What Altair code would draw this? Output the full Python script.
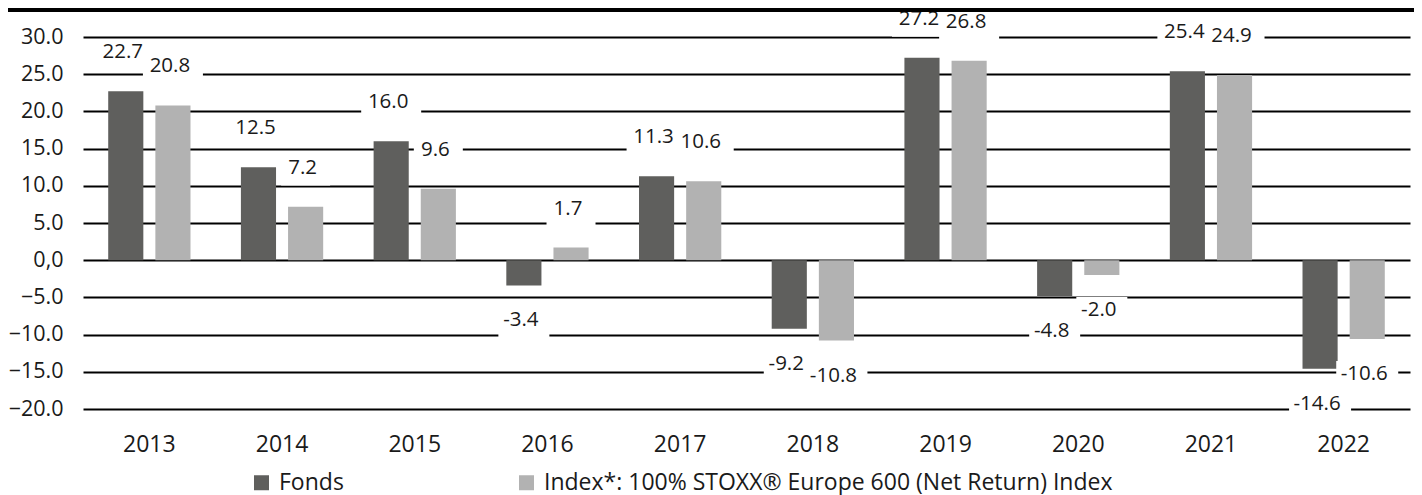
import altair as alt
import pandas as pd

years = ["2013", "2014", "2015", "2016", "2017", "2018", "2019", "2020", "2021", "2022"]
fonds = [22.7, 12.5, 16.0, -3.4, 11.3, -9.2, 27.2, -4.8, 25.4, -14.6]
index = [20.8, 7.2, 9.6, 1.7, 10.6, -10.8, 26.8, -2.0, 24.9, -10.6]
series = ["Fonds", "Index*: 100% STOXX® Europe 600 (Net Return) Index"]
colors = ["#5f5f5d", "#b2b2b2"]
y_ticks = [-20, -15, -10, -5, 0, 5, 10, 15, 20, 25, 30]

rows = []
for y, f, i in zip(years, fonds, index):
    rows.append({"year": y, "series": series[0], "value": f, "label": f"{f:.1f}"})
    rows.append({"year": y, "series": series[1], "value": i, "label": f"{i:.1f}"})
df = pd.DataFrame(rows)

FONT = "Open Sans"
TXT = "#1a1a1a"
W, H = 1327, 372

x_axis = alt.Axis(domain=False, ticks=False, labelAngle=0, labelPadding=24,
                  labelFontSize=23, labelColor=TXT, labelFont=FONT)
y_axis = alt.Axis(values=y_ticks, domain=False, ticks=False, grid=True,
                  gridColor="black", gridWidth=2, gridOpacity=1,
                  labelOverlap=False,
                  labelExpr="datum.value == 0 ? '0,0' : format(datum.value, '.1f')",
                  labelFontSize=21.5, labelColor=TXT, labelFont=FONT,
                  labelPadding=20)
x_scale = alt.Scale(paddingInner=0.38, paddingOuter=0.19)
xoff_scale = alt.Scale(paddingInner=0.255)
y_scale = alt.Scale(domain=[-20, 30], nice=False, zero=False)


def enc_common():
    return dict(
        x=alt.X("year:N", title=None, sort=years, scale=x_scale, axis=x_axis),
        xOffset=alt.XOffset("series:N", sort=series, scale=xoff_scale),
        y=alt.Y("value:Q", title=None, scale=y_scale, axis=y_axis),
    )


base = alt.Chart(df)

bars = base.mark_bar().encode(
    color=alt.Color("series:N", sort=series,
                    scale=alt.Scale(domain=series, range=colors),
                    legend=alt.Legend(title=None, orient="none", legendX=167, legendY=434,
                                      direction="horizontal", symbolType="square",
                                      symbolSize=225, symbolStrokeWidth=0, symbolOpacity=1,
                                      labelFontSize=23, labelFont=FONT, labelColor=TXT,
                                      labelLimit=900, columnPadding=171, labelOffset=6)),
    **enc_common(),
)

pos = base.transform_filter("datum.value >= 0")
neg = base.transform_filter("datum.value < 0")

# white label boxes: width follows the label's length (unit = 35 px for size 4900)
box_calc = dict(
    m="datum.value < 0 ? 1 : 0",
)
box_calc2 = dict(
    hw="(27 + 11 * (length(datum.label) - 1 - datum.m) + 2 * datum.m) / 70",
)
box_calc3 = dict(
    shp="'M' + (-datum.hw) + ',-0.371L' + datum.hw + ',-0.371L' + datum.hw + ',0.514L' + (-datum.hw) + ',0.514Z'",
)


def boxes(b, off):
    return b.transform_calculate(**box_calc).transform_calculate(**box_calc2).transform_calculate(
        **box_calc3).mark_point(filled=True, color="white", opacity=1, size=4900, strokeWidth=0,
                                yOffset=off, xOffset=-3).encode(
        shape=alt.Shape("shp:N", scale=None, legend=None), **enc_common())


def texts(b, off):
    return b.mark_text(dy=off, dx=-3, fontSize=20.5, font=FONT, color=TXT).encode(
        text="label:N", **enc_common())


top_line = alt.Chart(alt.Data(values=[{}])).mark_rule(color="black", strokeWidth=4).encode(
    x=alt.value(-75), x2=alt.value(W + 4), y=alt.value(-27))

chart = alt.layer(
    bars, boxes(pos, -39), boxes(neg, 35), texts(pos, -39), texts(neg, 35), top_line
).properties(
    width=W, height=H,
    padding={"left": 75, "top": 29, "right": 4, "bottom": 86},
    autosize=alt.AutoSizeParams(type="none"),
).configure(font=FONT).configure_view(stroke=None)

chart.save("out.html", embed_options={"renderer": "svg", "actions": False})
